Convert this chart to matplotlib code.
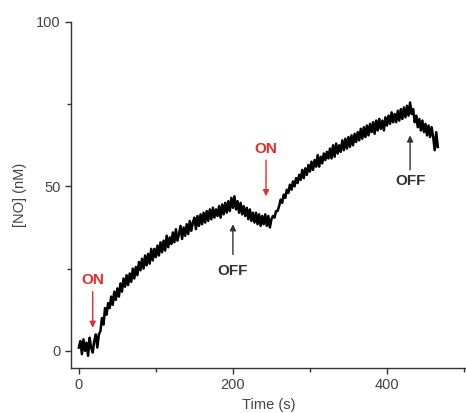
"""[NO] trace vs time with light ON/OFF markers."""
import numpy as np
import matplotlib
matplotlib.use('Agg')
import matplotlib.pyplot as plt
from matplotlib.ticker import MultipleLocator

plt.rcParams['font.family'] = ['Liberation Sans', 'DejaVu Sans']

SAMPLE_STEP = 2.0
no_nM = [
	1.0, 3.0, -1.0, 3.5, 0.0, 2.5, -1.5, 4.0, 1.0, -0.5,         # 0-18
	3.0, 5.0, 1.0, 5.0, 6.0, 10.0, 8.0, 13.0, 11.0, 14.5,        # 20-38
	13.0, 16.5, 14.0, 18.0, 15.5, 19.0, 16.5, 20.5, 18.0, 22.0,  # 40-58
	19.5, 23.0, 20.0, 23.5, 21.0, 25.0, 22.0, 25.5, 23.0, 27.0,  # 60-78
	24.5, 28.0, 25.0, 29.0, 26.0, 29.5, 26.5, 31.0, 27.5, 31.0,  # 80-98
	28.5, 32.0, 29.0, 33.0, 30.0, 33.5, 30.5, 35.0, 31.5, 34.5,  # 100-118
	32.5, 36.0, 33.0, 37.0, 33.5, 35.5, 38.0, 34.0, 37.5, 35.0,  # 120-138
	38.5, 35.5, 39.5, 36.5, 39.0, 40.5, 37.0, 41.0, 38.0, 41.5,  # 140-158
	38.5, 42.0, 39.0, 42.5, 39.5, 43.0, 40.0, 43.5, 40.5, 43.0,  # 160-178
	41.0, 44.0, 40.5, 44.5, 41.5, 45.0, 42.0, 45.5, 42.5, 46.5,  # 180-198
	43.5, 47.0, 43.0, 45.5, 42.0, 45.0, 41.5, 44.0, 41.0, 43.5,  # 200-218
	40.0, 43.0, 39.5, 42.0, 39.0, 42.0, 38.5, 41.5, 38.0, 41.0,  # 220-238
	38.5, 41.5, 38.0, 41.0, 37.5, 40.0, 41.0, 40.5, 42.5, 42.5,  # 240-258
	44.0, 46.0, 45.0, 47.5, 46.5, 49.0, 48.0, 50.5, 49.0, 51.5,  # 260-278
	50.0, 52.5, 51.0, 53.5, 52.0, 55.0, 52.5, 55.5, 53.5, 56.5,  # 280-298
	54.5, 57.5, 55.0, 58.0, 56.0, 59.5, 56.0, 59.0, 57.0, 60.0,  # 300-318
	58.0, 60.5, 58.5, 61.5, 58.5, 62.5, 59.0, 63.0, 60.0, 62.5,  # 320-338
	60.5, 64.0, 61.0, 64.5, 61.5, 65.0, 62.0, 65.5, 62.5, 66.0,  # 340-358
	63.5, 66.5, 64.0, 67.5, 64.5, 68.0, 65.0, 68.5, 65.5, 69.0,  # 360-378
	66.5, 69.5, 66.0, 70.0, 67.0, 70.5, 67.5, 70.0, 67.0, 71.0,  # 380-398
	68.5, 71.5, 69.0, 72.5, 69.5, 72.0, 69.5, 73.0, 70.0, 73.5,  # 400-418
	70.5, 74.0, 71.0, 74.5, 71.5, 75.5, 72.0, 73.5, 69.5, 71.5,  # 420-438
	68.0, 70.5, 67.0, 70.0, 66.5, 69.0, 65.5, 68.5, 65.0, 68.0,  # 440-458
	65.0, 61.0, 66.5, 62.0,                                      # 460-466
]
time_s = np.arange(len(no_nM)) * SAMPLE_STEP

# light switching events: (label, time, arrow tip, arrow tail, text y)
events = [
	('ON',  18,  7.0, 18.0, 21.6),
	('OFF', 200, 38.5, 29.3, 24.4),
	('ON',  243, 47.0, 58.0, 61.3),
	('OFF', 430, 65.5, 55.0, 51.5),
]
ON_COLOR = '#ec2a2a'
OFF_COLOR = '#333333'


def main():
	fig = plt.figure(figsize=(4.66, 4.13), dpi=100)
	ax = fig.add_axes([0.152, 0.109, 0.848, 0.838])

	ax.plot(time_s, no_nM, color='black', linewidth=1.8)

	for label, t, tip, tail, ty in events:
		col = ON_COLOR if label == 'ON' else OFF_COLOR
		ax.annotate('', xy=(t, tip), xytext=(t, tail),
		            arrowprops=dict(arrowstyle='-|>', color=col, lw=1.0,
		                            mutation_scale=9, shrinkA=0, shrinkB=0))
		ax.text(t, ty, label, color=col, fontsize=11, fontweight='bold',
		        ha='center', va='center')

	ax.set_xlim(-10.4, 502.6)
	ax.set_ylim(-5.2, 100)
	ax.xaxis.set_major_locator(MultipleLocator(200))
	ax.xaxis.set_minor_locator(MultipleLocator(100))
	ax.yaxis.set_major_locator(MultipleLocator(50))
	ax.yaxis.set_minor_locator(MultipleLocator(25))
	ax.tick_params(which='both', direction='out', colors='#333333',
	               labelcolor='#444444', labelsize=10.5, width=1.0)
	ax.tick_params(which='major', length=4)
	ax.tick_params(which='minor', length=3)

	for side in ('top', 'right'):
		ax.spines[side].set_visible(False)
	for side in ('left', 'bottom'):
		ax.spines[side].set_color('#333333')
		ax.spines[side].set_linewidth(1.0)

	ax.set_xlabel('Time (s)', fontsize=10.5, color='#444444', labelpad=4)
	ax.set_ylabel('[NO] (nM)', fontsize=10.5, color='#444444', labelpad=6)

	fig.savefig('out.png', dpi=100)


if __name__ == '__main__':
	main()
